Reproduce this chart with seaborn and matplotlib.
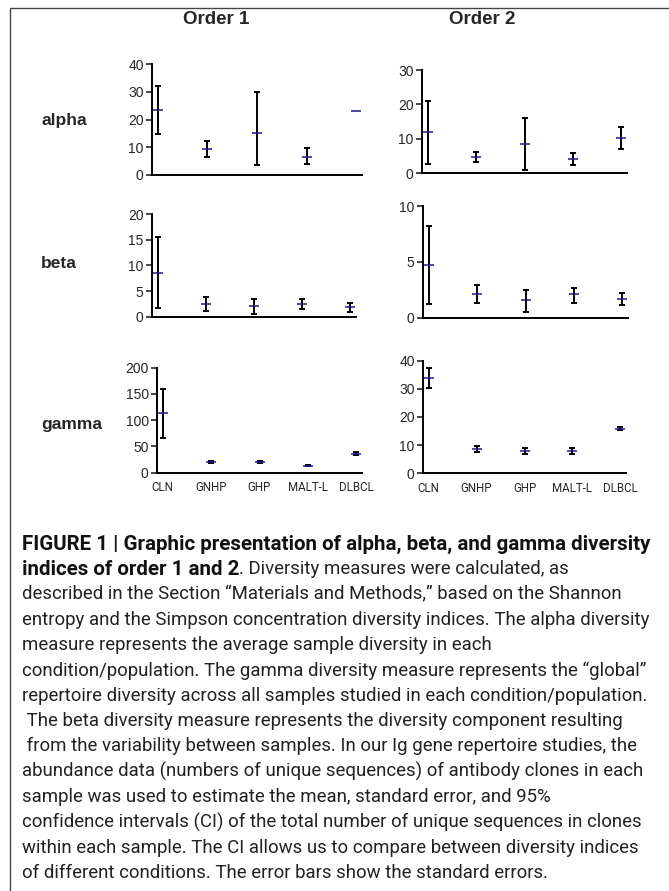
import numpy as np
import pandas as pd
import matplotlib
matplotlib.use("Agg")
import matplotlib.pyplot as plt
import matplotlib.patches as mpatches
import seaborn as sns

# ---------------- data ----------------
categories = ["CLN", "GNHP", "GHP", "MALT-L", "DLBCL"]

alpha1_mean = [23.4, 9.4, 15.1, 6.4, 23.0]
alpha1_lo = [14.7, 6.6, 3.6, 3.8, np.nan]
alpha1_hi = [32.2, 12.4, 29.9, 9.6, np.nan]

alpha2_mean = [12.1, 4.8, 8.6, 4.2, 10.3]
alpha2_lo = [2.7, 3.4, 0.9, 2.4, 7.1]
alpha2_hi = [21.0, 6.2, 16.2, 5.8, 13.4]

beta1_mean = [8.6, 2.5, 2.0, 2.5, 1.8]
beta1_lo = [1.6, 1.2, 0.5, 1.5, 1.0]
beta1_hi = [15.5, 3.8, 3.5, 3.4, 2.6]

beta2_mean = [4.7, 2.1, 1.6, 2.1, 1.7]
beta2_lo = [1.2, 1.3, 0.5, 1.3, 1.1]
beta2_hi = [8.2, 2.9, 2.5, 2.7, 2.2]

gamma1_mean = [113, 20, 20, 13, 36]
gamma1_lo = [67, 18.5, 18, 12, 33.5]
gamma1_hi = [159, 21.5, 22, 14, 38.5]

gamma2_mean = [33.9, 8.8, 8.0, 8.0, 15.8]
gamma2_lo = [30.4, 7.7, 6.9, 7.0, 15.3]
gamma2_hi = [37.4, 9.6, 9.0, 9.0, 16.3]

yticks_alpha1 = [0, 10, 20, 30, 40]
yticks_alpha2 = [0, 10, 20, 30]
yticks_beta1 = [0, 5, 10, 15, 20]
yticks_beta2 = [0, 5, 10]
yticks_gamma1 = [0, 50, 100, 150, 200]
yticks_gamma2 = [0, 10, 20, 30, 40]

col_titles = ["Order 1", "Order 2"]
row_labels = ["alpha", "beta", "gamma"]

caption_bold1 = "FIGURE 1 | Graphic presentation of alpha, beta, and gamma diversity"
caption_bold2 = "indices of order 1 and 2"
caption_rest2 = ". Diversity measures were calculated, as"
caption_lines = [
    "described in the Section \u201cMaterials and Methods,\u201d based on the Shannon",
    "entropy and the Simpson concentration diversity indices. The alpha diversity",
    "measure represents the average sample diversity in each",
    "condition/population. The gamma diversity measure represents the \u201cglobal\u201d",
    "repertoire diversity across all samples studied in each condition/population.",
    " The beta diversity measure represents the diversity component resulting",
    " from the variability between samples. In our Ig gene repertoire studies, the",
    "abundance data (numbers of unique sequences) of antibody clones in each",
    "sample was used to estimate the mean, standard error, and 95%",
    "confidence intervals (CI) of the total number of unique sequences in clones",
    "within each sample. The CI allows us to compare between diversity indices",
    "of different conditions. The error bars show the standard errors.",
]

# ---------------- figure ----------------
sns.set_style("white")
plt.rcParams["font.family"] = ["Liberation Sans", "DejaVu Sans"]

W, H = 669, 891
fig = plt.figure(figsize=(W / 100, H / 100), dpi=100)
fig.patch.set_facecolor("white")


def px_axes(x0, y0, x1, y1):
    return fig.add_axes([x0 / W, 1 - y1 / H, (x1 - x0) / W, (y1 - y0) / H])


narrow = ["Liberation Sans Narrow", "Roboto", "Liberation Sans", "DejaVu Sans"]
capfont = ["Roboto", "Liberation Sans", "DejaVu Sans"]
navy = "#1a1a8a"

panels = [
    # (box px, mean, lo, hi, yticks, show xlabels)
    ((152, 64, 362, 175), alpha1_mean, alpha1_lo, alpha1_hi, yticks_alpha1, False),
    ((422, 70, 627, 173.3), alpha2_mean, alpha2_lo, alpha2_hi, yticks_alpha2, False),
    ((152, 214, 356, 316.7), beta1_mean, beta1_lo, beta1_hi, yticks_beta1, False),
    ((423, 206, 628, 317.7), beta2_mean, beta2_lo, beta2_hi, yticks_beta2, False),
    ((157, 367.7, 362, 472.7), gamma1_mean, gamma1_lo, gamma1_hi, yticks_gamma1, True),
    ((423, 360.7, 626, 473.3), gamma2_mean, gamma2_lo, gamma2_hi, yticks_gamma2, True),
]

for box, mean, lo, hi, yt, showx in panels:
    ax = px_axes(*box)
    df = pd.DataFrame({"cat": categories, "pos": np.arange(len(categories)),
                       "mean": mean, "lo": lo, "hi": hi})
    ok = df.dropna()
    ax.errorbar(ok["pos"], ok["mean"],
                yerr=[ok["mean"] - ok["lo"], ok["hi"] - ok["mean"]],
                fmt="none", ecolor="black", elinewidth=1.4,
                capsize=2.5, capthick=1.4, zorder=2)
    sns.scatterplot(data=df, x="pos", y="mean", marker="_", s=60,
                    color=navy, linewidth=1.1, ax=ax, zorder=3, legend=False)
    ax.set_xlim(-0.12, 4.12)
    ax.set_ylim(yt[0], yt[-1])
    ax.set_yticks(yt)
    ax.set_xticks(np.arange(len(categories)))
    if showx:
        ax.set_xticklabels(categories, fontfamily=narrow, fontsize=8.3)
    else:
        ax.set_xticklabels([])
    ax.tick_params(axis="x", length=0, pad=6)
    ax.tick_params(axis="y", direction="out", length=4, width=1.2,
                   labelsize=10, pad=2, left=True)
    for s in ["top", "right"]:
        ax.spines[s].set_visible(False)
    for s in ["left", "bottom"]:
        ax.spines[s].set_linewidth(1.4)
        ax.spines[s].set_color("black")
    ax.set_xlabel("")
    ax.set_ylabel("")
    ax.patch.set_alpha(0)

# column titles
for t, cx in zip(col_titles, [216, 482]):
    fig.text(cx / W, 1 - 19 / H, t, ha="center", va="center",
             fontsize=13.5, fontweight="bold")

# row labels
for t, cy in zip(row_labels, [121, 263, 424]):
    fig.text(41 / W, 1 - cy / H, t, ha="left", va="center",
             fontsize=12.5, fontweight="bold")

# frame
fig.add_artist(mpatches.Rectangle((10 / W, -0.05), 1.2, 1 - 8 / H + 0.05,
                                  transform=fig.transFigure, fill=False,
                                  edgecolor="#444444", linewidth=1.0))

# caption
renderer = fig.canvas.get_renderer()
x_left = 22
y_first = 544
dy = 25.3


def fit_size(text, weight, target_px, base=12.0):
    t = fig.text(0, 0, text, fontsize=base, fontweight=weight, fontfamily=capfont)
    w = t.get_window_extent(renderer).width
    t.remove()
    return base * target_px / w


fs_bold = fit_size(caption_bold1, "bold", 647 - x_left)
fs_reg = fit_size(caption_lines[1], "normal", 648 - x_left)

fig.text(x_left / W, 1 - y_first / H, caption_bold1, fontsize=fs_bold,
         fontweight="bold", fontfamily=capfont, va="center", ha="left",
         color="#111111")
tb = fig.text(x_left / W, 1 - (y_first + dy) / H, caption_bold2, fontsize=fs_bold,
              fontweight="bold", fontfamily=capfont, va="center", ha="left",
              color="#111111")
bw = tb.get_window_extent(renderer).width
fig.text((x_left + bw) / W, 1 - (y_first + dy) / H, caption_rest2, fontsize=fs_reg,
         fontweight="normal", fontfamily=capfont, va="center", ha="left",
         color="#222222")
for i, line in enumerate(caption_lines):
    fig.text(x_left / W, 1 - (y_first + dy * (i + 2)) / H, line, fontsize=fs_reg,
             fontweight="normal", fontfamily=capfont, va="center", ha="left",
             color="#222222")

fig.savefig("out.png", dpi=100, facecolor="white")
